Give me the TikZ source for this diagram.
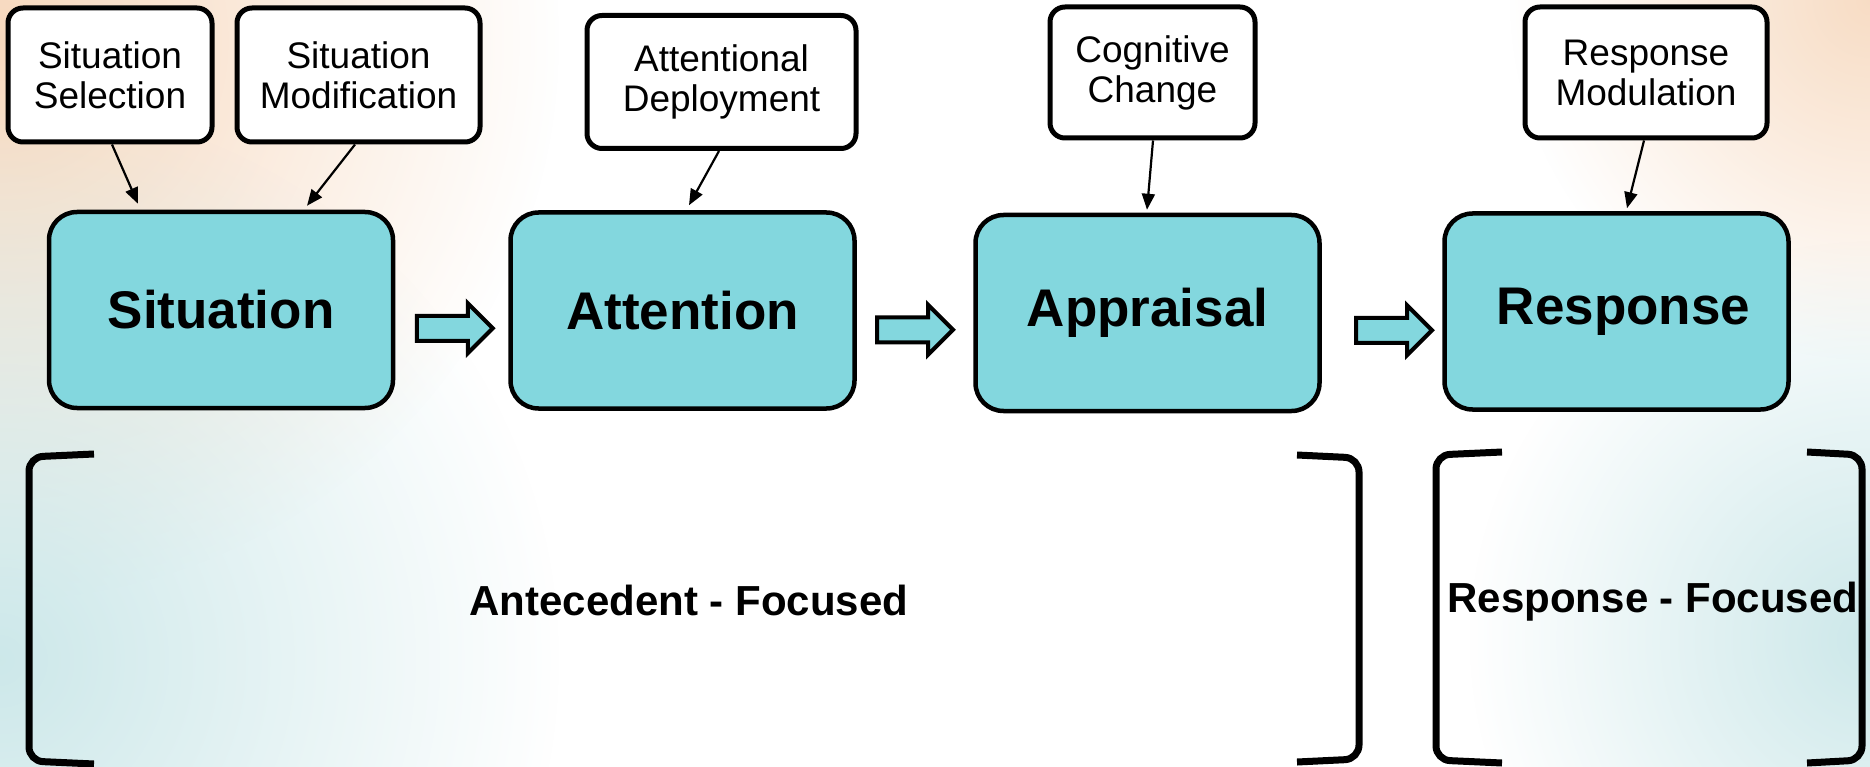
\documentclass[tikz,border=0pt]{standalone}
\usepackage{fontspec}
\setmainfont{Liberation Sans}
\usetikzlibrary{arrows.meta,calc,fadings}
\definecolor{boxteal}{RGB}{131,215,222}
\definecolor{peach}{RGB}{246,212,182}
\definecolor{mist}{RGB}{196,228,230}
\tikzfading[name=softglow,inner color=transparent!0,outer color=transparent!100]
\tikzset{
  smallbox/.style={draw,line width=5pt,rounded corners=15pt,fill=white,align=center,inner sep=0pt,font=\fontsize{37}{40}\selectfont},
  mainbox/.style={draw,line width=4.5pt,rounded corners=28pt,fill=boxteal,inner sep=0pt,minimum width=344pt,minimum height=196pt,font=\fontsize{53}{60}\selectfont\bfseries},
  conn/.style={line width=2.2pt,-{Triangle[length=16pt,width=13pt]}},
  flowarrow/.style={draw,line width=4pt,fill=boxteal,line join=miter},
  bracketline/.style={line width=7pt,rounded corners=14pt},
  focuslabel/.style={font=\fontsize{42}{48}\selectfont\bfseries}
}
\begin{document}
\begin{tikzpicture}[x=1pt,y=-1pt]
            % background
            \useasboundingbox (0,0) rectangle (1870,767);
            \fill[white] (0,0) rectangle (1870,767);
            \begin{scope}
            \clip (0,0) rectangle (1870,767);
            \fill[peach,path fading=softglow,opacity=0.9] (0,40) circle (560);
            \fill[mist,path fading=softglow,opacity=0.85] (0,660) circle (560);
            \fill[peach,path fading=softglow,opacity=0.8] (1870,0) circle (360);
            \fill[mist,path fading=softglow,opacity=0.85] (1870,640) circle (400);
            \end{scope}
%
            % strategies
            \node[smallbox,minimum width=204pt,minimum height=134pt] (sel) at (110,75) {Situation\\Selection};
            \node[smallbox,minimum width=243pt,minimum height=134pt] (mod) at (358.5,75) {Situation\\Modification};
            \node[smallbox,minimum width=269pt,minimum height=133pt] (dep) at (721.5,82) {Attentional\\Deployment};
            \node[smallbox,minimum width=205pt,minimum height=131pt] (cog) at (1152.5,72.5) {Cognitive\\Change};
            \node[smallbox,minimum width=242pt,minimum height=131pt] (rmod) at (1646,72.5) {Response\\Modulation};
%
            % stages
            \node[mainbox] (sit) at (221,310) {Situation};
            \node[mainbox] (att) at (682.5,310.5) {Attention};
            \node[mainbox] (app) at (1147.5,313) {Appraisal};
            \node[mainbox] (resp) at (1616.5,311.5) {\hspace*{14pt}Response};
%
            % links
            \draw[conn] ([xshift=2pt]sel.south) -- ([xshift=-83pt,yshift=6pt]sit.north);
            \draw[conn] ([xshift=-3.5pt]mod.south) -- ([xshift=86pt,yshift=4pt]sit.north);
            \draw[conn] ([xshift=-2.5pt]dep.south) -- ([xshift=6.5pt,yshift=5pt]att.north);
            \draw[conn] ([xshift=0.5pt]cog.south) -- ([xshift=-0.5pt,yshift=3pt]app.north);
            \draw[conn] ([xshift=-2pt]rmod.south) -- ([xshift=10.5pt,yshift=3pt]resp.north);
            \foreach \a/\b/\dx in {sit/att/3,att/app/0,app/resp/12}
              \draw[flowarrow] ($(\a.east)!0.5!(\b.west)+(\dx,18)$) ++(-38,-12.5) -- ++(51,0) -- ++(0,-12.5)
                -- ++(25,25) -- ++(-25,25) -- ++(0,-12.5) -- ++(-51,0) -- cycle;
%
            % brackets
            \draw[bracketline] (94,454) -- (29,457) -- (29,761) -- (94,764);
            \draw[bracketline] (1297,455) -- (1359,458) -- (1359,759) -- (1297,762);
            \draw[bracketline] (1502,452) -- (1436,455) -- (1436,760) -- (1502,763);
            \draw[bracketline] (1807,452) -- (1862,455) -- (1862,760) -- (1807,763);
            \node[focuslabel] (ant) at (689,600) {Antecedent - Focused};
            \node[focuslabel] (rfoc) at (1653,602) {Response - Focused};
        \end{tikzpicture}
\end{document}
